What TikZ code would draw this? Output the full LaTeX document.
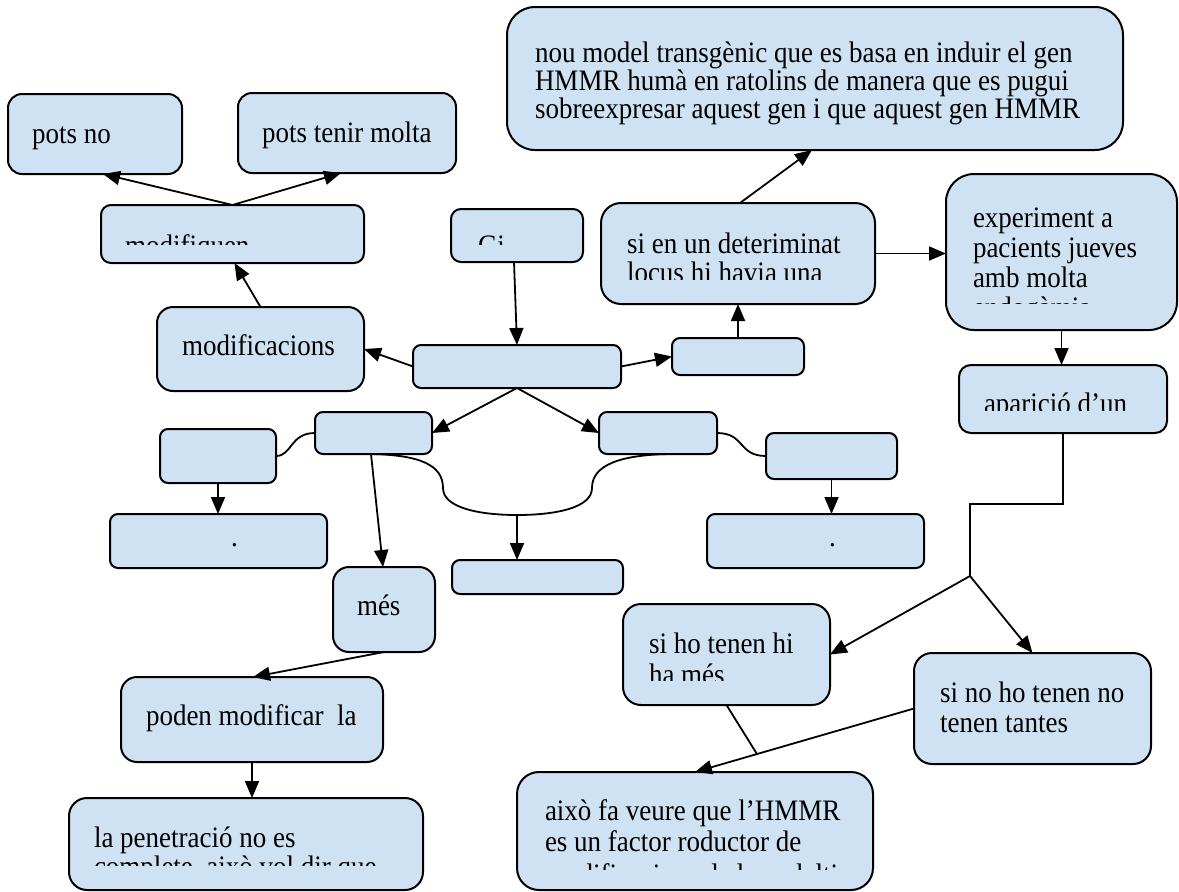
\documentclass[tikz,border=0pt]{standalone}
\usepackage{graphicx}
\usepackage{fontspec}
\setmainfont{Liberation Serif}
\usetikzlibrary{arrows.meta,calc}
\definecolor{boxfill}{RGB}{207,226,243}
\newcommand\mybox[6]{\node[cbox, rounded corners=#6pt, minimum width={(#4-#2)*1pt}, minimum height={(#5-#3)*1pt}] (#1) at ({(#2+#4)/2},{(#3+#5)/2}) {};}
\newcommand\mytxt[4]{\node[txt] (#1) at (#2,#3) {\scalebox{1}[1.1]{#4}};}
\begin{document}
\begin{tikzpicture}[x=1pt, y=-1pt,
  cbox/.style={draw=black, line width=2pt, fill=boxfill, inner sep=0pt, outer sep=0pt},
  txt/.style={anchor=base west, inner sep=0pt, outer sep=0pt, font=\fontsize{27}{29}\selectfont},
  arr/.style={line width=1.8pt, -{Triangle[length=17pt,width=14pt]}},
  con/.style={line width=1.8pt}]
\useasboundingbox (0,0) rectangle (1179,892);
% boxes
\mybox{topbig}{507}{7}{1123}{150}{28}
\mybox{potsno}{8}{94}{182}{174}{14}
\mybox{potstenir}{238}{93}{456}{173}{14}
\mybox{modq}{101}{205}{364}{263}{10}
\mybox{gi}{451}{209}{583}{262}{10}
\mybox{modc}{157}{307}{364}{391}{16}
\mybox{central}{413}{345}{621}{388}{8}
\mybox{small}{672}{338}{804}{375}{8}
\mybox{sien}{601}{203}{875}{304}{20}
\mybox{exper}{946}{174}{1177}{330}{28}
\mybox{apar}{959}{365}{1167}{433}{12}
\mybox{Lone}{160}{429}{276}{483}{8}
\mybox{Ltwo}{315}{412}{432}{454}{8}
\mybox{Rtwo}{599}{412}{717}{454}{8}
\mybox{Rone}{766}{433}{897}{479}{8}
\mybox{LL}{110}{514}{327}{568}{8}
\mybox{RR}{707}{514}{924}{568}{8}
\mybox{mes}{333}{567}{435}{652}{16}
\mybox{midb}{452}{560}{623}{594}{8}
\mybox{poden}{121}{677}{383}{762}{16}
\mybox{lapen}{69}{798}{423}{890}{18}
\mybox{siho}{623}{604}{830}{705}{18}
\mybox{sino}{914}{653}{1151}{764}{18}
\mybox{aixo}{517}{772}{873}{890}{22}
% connectors
\draw[arr] (modq.north) -- ([xshift=8pt]potsno.south);
\draw[arr] (modq.north) -- ([xshift=-6pt]potstenir.south);
\draw[arr] (modc.north) -- ([xshift=2pt]modq.south);
\draw[arr] ([xshift=-3pt]gi.south) -- (central.north);
\draw[arr] (central.west) -- (modc.east);
\draw[arr] (central.east) -- (small.west);
\draw[arr] (small.north) -- (sien.south);
\draw[arr] ([xshift=2pt]sien.north) -- ([xshift=-3pt]topbig.south);
\draw[arr] (sien.east) -- (sien.east -| exper.west);
\draw[arr] (exper.south) -- (exper.south |- apar.north);
\draw[arr] (central.south) -- (Ltwo.east);
\draw[arr] (central.south) -- (Rtwo.west);
\draw[arr] ([xshift=-2.5pt]Ltwo.south) -- ([xshift=-1pt]mes.north);
\draw[arr] (Lone.south) -- (Lone.south |- LL.north);
\draw[arr] (Rone.south) -- (Rone.south |- RR.north);
\draw[con] (Lone.east) .. controls +(16,0) and +(-25,0) .. (Ltwo.west);
\draw[con] (Rtwo.east) .. controls +(28,0) and +(-28,0) .. (Rone.west);
\coordinate (bb) at (517,515);
\draw[con] ([xshift=-2.5pt]Ltwo.south) .. controls (420,455) and (443,465) .. (443,488)
  .. controls (443,508) and (480,515) .. (bb)
  .. controls (555,515) and (592,508) .. (592,488)
  .. controls (592,465) and (620,455) .. ([xshift=11pt]Rtwo.south);
\draw[arr] (bb) -- (bb |- midb.north);
\draw[arr] (mes.south) -- ([xshift=1pt]poden.north);
\draw[arr] (poden.south) -- (poden.south |- lapen.north);
\coordinate (br) at (970,576);
\draw[con] (apar.south) -- ++(0,71) -| (br);
\draw[arr] (br) -- (siho.east);
\draw[arr] (br) -- (sino.north);
\draw[arr] (sino.west) -- (aixo.north);
\coordinate (jn) at ($(sino.west)!0.717!(aixo.north)$);
\draw[con] (siho.south) -- (jn);
% texts
\mytxt{t1a}{535}{62}{nou model transgènic que es basa en induir el gen}
\mytxt{t1b}{535}{90}{HMMR humà en ratolins de manera que es pugui}
\mytxt{t1c}{535}{118}{sobreexpresar aquest gen i que aquest gen HMMR}
\mytxt{t2}{32}{143}{pots no}
\mytxt{t3}{262}{142}{pots tenir molta}
\begin{scope}
\clip (101,205) rectangle (364,244);
\mytxt{t4}{125}{255}{modifiquen}
\end{scope}
\begin{scope}
\clip (451,209) rectangle (583,244);
\mytxt{t5}{478}{255}{Gi}
\end{scope}
\mytxt{t6}{182}{355}{modificacions}
\mytxt{t7a}{627}{253}{si en un deteriminat}
\begin{scope}
\clip (601,203) rectangle (875,279);
\mytxt{t7b}{627}{282}{locus hi havia una}
\end{scope}
\mytxt{t8a}{973}{227}{experiment a}
\mytxt{t8b}{973}{257}{pacients jueves}
\mytxt{t8c}{973}{287}{amb molta}
\begin{scope}
\clip (946,174) rectangle (1177,303);
\mytxt{t8d}{973}{317}{endogàmia}
\end{scope}
\begin{scope}
\clip (959,365) rectangle (1167,410);
\mytxt{t9}{984}{413}{aparició d’un}
\end{scope}
\mytxt{t10}{231}{546}{.}
\mytxt{t11}{829}{546}{.}
\mytxt{t12}{357}{615}{més}
\mytxt{t13}{146}{725}{poden modificar~ la}
\mytxt{t14a}{94}{847}{la penetració no es}
\begin{scope}
\clip (69,798) rectangle (423,865);
\mytxt{t14b}{94}{876}{complete, això vol dir que}
\end{scope}
\mytxt{t15a}{649}{653}{si ho tenen hi}
\begin{scope}
\clip (623,604) rectangle (830,680);
\mytxt{t15b}{649}{684}{ha més}
\end{scope}
\mytxt{t16a}{940}{702}{si no ho tenen no}
\mytxt{t16b}{940}{732}{tenen tantes}
\mytxt{t17a}{545}{820}{això fa veure que l’HMMR}
\mytxt{t17b}{545}{851}{es un factor roductor de}
\begin{scope}
\clip (517,772) rectangle (873,869);
\mytxt{t17c}{545}{884}{modificacions de la malaltia}
\end{scope}
\end{tikzpicture}
\end{document}
